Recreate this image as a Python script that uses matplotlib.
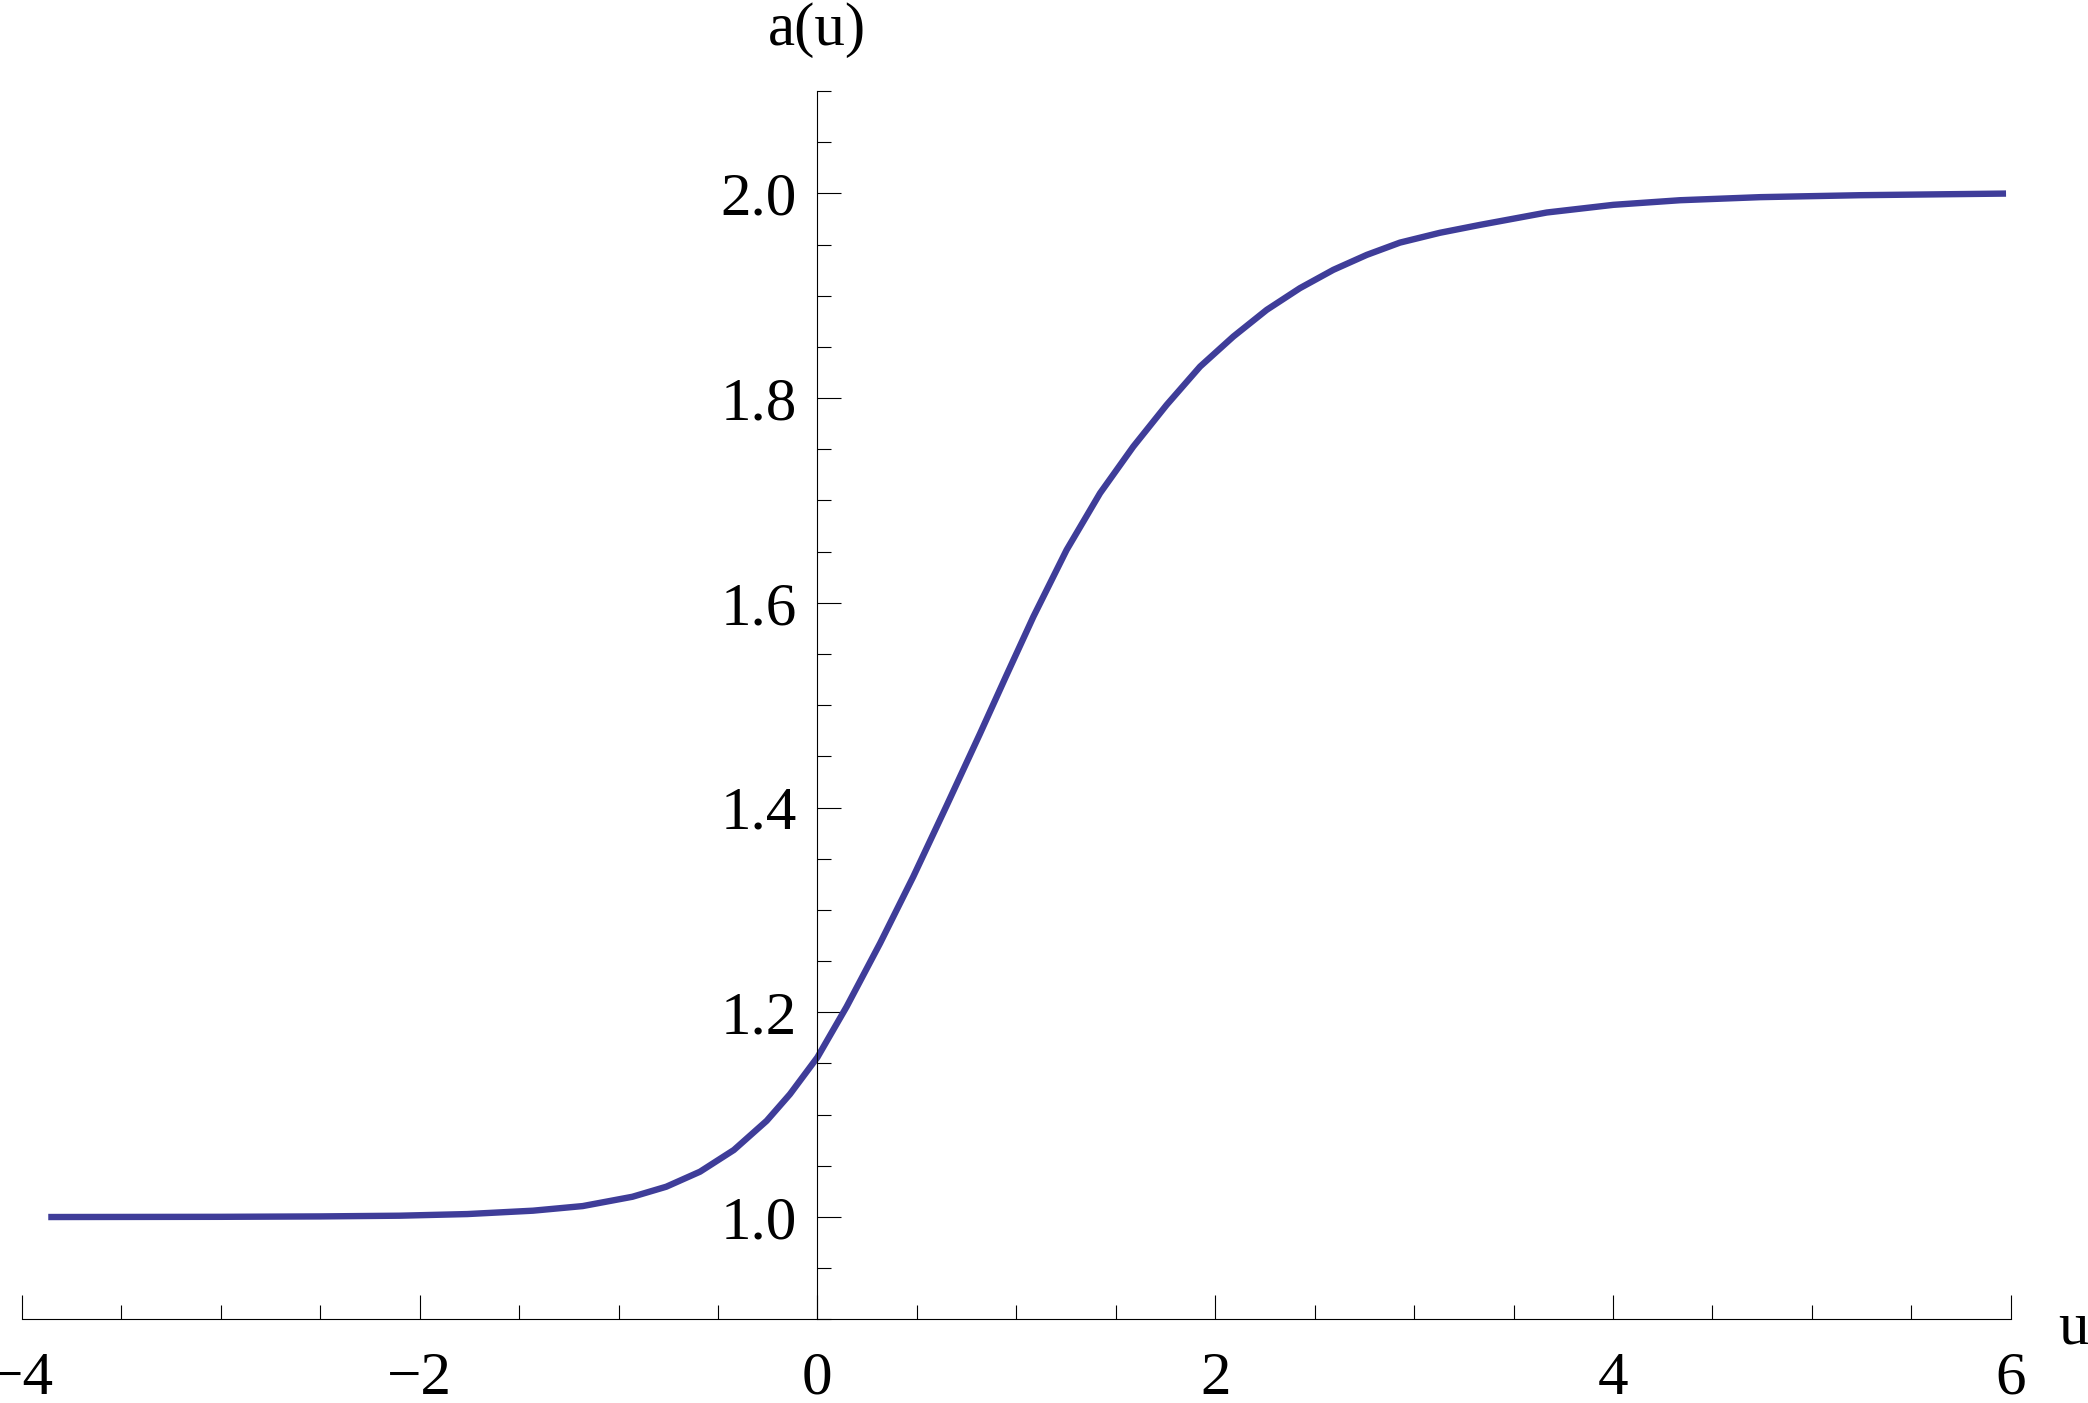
import matplotlib
matplotlib.use("Agg")
import matplotlib.pyplot as plt
from matplotlib.ticker import MultipleLocator, FormatStrFormatter

# values
u_vals = [-3.867, -3.0, -2.5, -2.1, -1.76, -1.43, -1.18, -0.93, -0.76, -0.59,
          -0.42, -0.255, -0.138, 0.0, 0.147, 0.315, 0.482, 0.65, 0.817, 0.95,
          1.086, 1.253, 1.421, 1.588, 1.756, 1.924, 2.091, 2.259, 2.426, 2.594,
          2.762, 2.929, 3.13, 3.331, 3.667, 4.002, 4.337, 4.74, 5.24, 5.976]
a_vals = [1.0000, 1.0002, 1.0006, 1.0013, 1.0029, 1.0062, 1.0107, 1.0198, 1.0296, 1.0443,
          1.0655, 1.094, 1.120, 1.156, 1.2055, 1.2674, 1.3325, 1.402, 1.472, 1.529,
          1.5865, 1.6517, 1.7071, 1.7526, 1.7934, 1.8308, 1.8601, 1.8862, 1.9074, 1.9253,
          1.9399, 1.9519, 1.9615, 1.9692, 1.9813, 1.9888, 1.9933, 1.9963, 1.9982, 1.9998]

plt.rcParams['font.family'] = ['Liberation Serif', 'DejaVu Serif']
fs = 44

fig = plt.figure(figsize=(20.88, 14.03), dpi=100)
ax = fig.add_axes([0.01044, 0.05959, 0.95259, 0.87555])

ax.plot(u_vals, a_vals, color='#3f3d99', lw=4.6,
        solid_capstyle='butt', solid_joinstyle='round')

ax.set_xlim(-4, 6)
ax.set_ylim(0.9, 2.1)

ax.spines['top'].set_visible(False)
ax.spines['right'].set_visible(False)
ax.spines['left'].set_position(('data', 0))
for s in ['left', 'bottom']:
    ax.spines[s].set_linewidth(0.8)

ax.xaxis.set_major_locator(MultipleLocator(2))
ax.xaxis.set_minor_locator(MultipleLocator(0.5))
ax.yaxis.set_minor_locator(MultipleLocator(0.05))
ax.set_yticks([1.0, 1.2, 1.4, 1.6, 1.8, 2.0])
ax.yaxis.set_major_formatter(FormatStrFormatter('%.1f'))

ax.tick_params(which='both', direction='in', width=0.8, labelsize=fs)
ax.tick_params(which='major', length=17)
ax.tick_params(which='minor', length=10.4)
ax.tick_params(axis='x', which='major', pad=23)
ax.tick_params(axis='y', which='major', pad=15)

ax.annotate('a(u)', xy=(0, 2.1), xycoords='data', xytext=(0, 24),
            textcoords='offset points', ha='center', va='bottom', fontsize=fs)
ax.annotate('u', xy=(6, 0.9), xycoords='data', xytext=(45, -17),
            textcoords='offset points', ha='center', va='baseline', fontsize=fs,
            annotation_clip=False)

fig.savefig('out.png', dpi=100)
